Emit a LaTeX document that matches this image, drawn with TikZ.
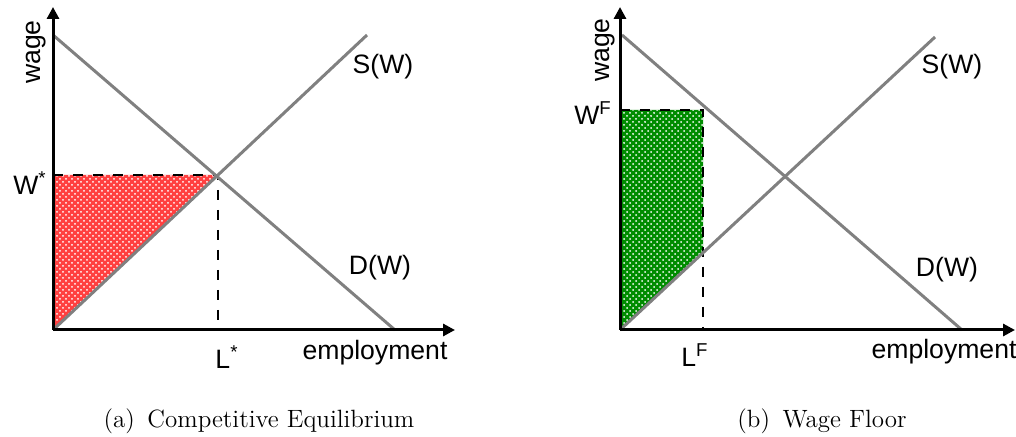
\documentclass[tikz,border=0pt]{standalone}
\usepackage{fontspec}
\newfontfamily\arial{Liberation Sans}
\usetikzlibrary{arrows.meta,patterns}
\begin{document}
\begin{tikzpicture}[x=0.5pt,y=-0.5pt,
  axis/.style={line width=1.5pt,-{Triangle[length=6pt,width=6pt]}},
  curve/.style={line width=1.5pt,draw={rgb,255:red,128;green,128;blue,128}},
  guide/.style={line width=1.25pt,dash pattern=on 5pt off 5pt},
  lbl/.style={font=\arial\fontsize{13.3}{16}\selectfont,inner sep=0pt},
  captext/.style={font=\fontsize{12.5}{15}\selectfont,inner sep=0pt}]
\useasboundingbox (0,0) rectangle (1016,437);
% ---------- (a) ----------
\coordinate (oA) at (53,330);
\coordinate (yA) at (53,7);
\coordinate (xA) at (455,330);
\coordinate (dA1) at (53,35);
\coordinate (dA2) at (395,330);
\coordinate (sA2) at (367,35);
\coordinate (eA) at (218,175);
\coordinate (wA) at (53,175);
\coordinate (lA) at (218,330);
\fill[red!75] (oA) -- (wA) -- (eA) -- cycle;
\fill[pattern=crosshatch dots,pattern color=white] (oA) -- (wA) -- (eA) -- cycle;
\draw[guide] (wA) -- (eA) -- (lA);
\draw[curve] (dA1) -- (dA2);
\draw[curve] (oA) -- (sA2);
\draw[axis] (oA) -- (yA);
\draw[axis] (oA) -- (xA);
\node[lbl,rotate=90] (wageA) at (36,52) {wage};
\node[lbl] (WA) at (30,183) {W\textsuperscript{*}};
\node[lbl] (SA) at (383,67) {S(W)};
\node[lbl] (DA) at (380,268) {D(W)};
\node[lbl] (LA) at (227,357) {L\textsuperscript{*}};
\node[lbl] (empA) at (375,353) {employment};
\node[captext] (capA) at (259,421) {(a)\enspace Competitive Equilibrium};
% ---------- (b) ----------
\coordinate (oB) at (620,330);
\coordinate (yB) at (620,7);
\coordinate (xB) at (1015,330);
\coordinate (dB1) at (622,35);
\coordinate (dB2) at (962,330);
\coordinate (sB2) at (935,37);
\coordinate (wB) at (620,110);
\coordinate (fB) at (703,110);
\coordinate (gB) at (703,252);
\coordinate (lB) at (703,330);
\fill[green!55!black] (oB) -- (wB) -- (fB) -- (gB) -- cycle;
\fill[pattern=crosshatch dots,pattern color=white] (oB) -- (wB) -- (fB) -- (gB) -- cycle;
\draw[guide] (wB) -- (fB) -- (lB);
\draw[curve] (dB1) -- (dB2);
\draw[curve] (oB) -- (sB2);
\draw[axis] (oB) -- (yB);
\draw[axis] (oB) -- (xB);
\node[lbl,rotate=90] (wageB) at (605,50) {wage};
\node[lbl] (WB) at (593,113) {W\textsuperscript{F}};
\node[lbl] (SB) at (952,67) {S(W)};
\node[lbl] (DB) at (947,270) {D(W)};
\node[lbl] (LB) at (695,355) {L\textsuperscript{F}};
\node[lbl] (empB) at (944,352) {employment};
\node[captext] (capB) at (822,421) {(b)\enspace Wage Floor};
\end{tikzpicture}
\end{document}
